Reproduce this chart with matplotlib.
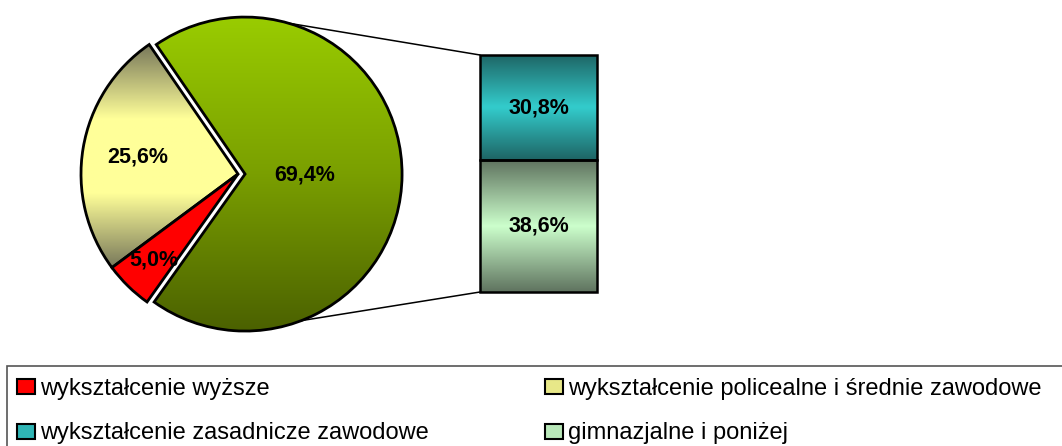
import numpy as np
import matplotlib
matplotlib.use("Agg")
import matplotlib.pyplot as plt
from matplotlib.colors import LinearSegmentedColormap
from matplotlib.patches import Patch, Rectangle, ConnectionPatch

plt.rcParams['font.family'] = ['Liberation Sans', 'DejaVu Sans']

# pie: "other" slice first, then the two shown slices
pie_values = [69.4, 25.6, 5.0]
pie_labels = ["69,4%", "25,6%", "5,0%"]
# bar of the "other" slice, bottom to top
bar_values = [38.6, 30.8]
bar_labels = ["38,6%", "30,8%"]

legend_names = ["wykształcenie wyższe",
                "wykształcenie zasadnicze zawodowe",
                "wykształcenie policealne i średnie zawodowe",
                "gimnazjalne i poniżej"]
legend_colors = ["#FF0000", "#2FB5B5", "#E8E888", "#B9E8B9"]

# gradients, top to bottom
grad_green = ["#99CC00", "#7A9F00", "#4B6100"]
grad_yellow = ["#77775A", "#FFFF99", "#FFFF99", "#77775A"]
grad_teal = ["#1E6464", "#33CCCC", "#1E6464"]
grad_lgreen = ["#5F735F", "#CCFFCC", "#5F735F"]


def grad_fill(ax, patch, colors):
    bb = patch.get_path().get_extents(patch.get_patch_transform())
    cmap = LinearSegmentedColormap.from_list("g", colors)
    arr = np.linspace(0, 1, 256).reshape(-1, 1)
    im = ax.imshow(arr, cmap=cmap, extent=(bb.x0, bb.x1, bb.y0, bb.y1),
                   origin="upper", aspect="auto", interpolation="bilinear",
                   zorder=patch.get_zorder() - 0.5)
    im.set_clip_path(patch)
    patch.set_facecolor("none")


fig = plt.figure(figsize=(10.62, 4.46), dpi=100)
ax = fig.add_axes([0, 0, 1, 1])

radius = 157
wedges, _ = ax.pie(pie_values, explode=[0.045 * radius, 0, 0], startangle=-125.4,
                   center=(238, 272), radius=radius, counterclock=True,
                   colors=["#99CC00", "#FFFF99", "#FF0000"],
                   wedgeprops=dict(edgecolor="black", linewidth=2))
ax.set_xlim(0, 1062)
ax.set_ylim(0, 446)
ax.set_aspect("auto")
ax.axis("off")

grad_fill(ax, wedges[0], grad_green)
grad_fill(ax, wedges[1], grad_yellow)

label_dist = [0.38, 0.645, 0.77]
for w, lab, d in zip(wedges, pie_labels, label_dist):
    ang = np.deg2rad((w.theta1 + w.theta2) / 2)
    cx, cy = w.center
    ax.text(cx + d * w.r * np.cos(ang), cy + d * w.r * np.sin(ang), lab,
            ha="center", va="center", fontsize=15.5, fontweight="bold", zorder=5)

# bar of pie
bax = fig.add_axes([480 / 1062, (446 - 292) / 446, 117 / 1062, 237 / 446])
total = sum(bar_values)
bottoms = np.cumsum([0] + bar_values[:-1])
bars = bax.bar([0, 0], bar_values, bottom=bottoms, width=1.0,
               edgecolor="black", linewidth=1.8, clip_on=False)
bax.set_xlim(-0.5, 0.5)
bax.set_ylim(0, total)
bax.axis("off")
grad_fill(bax, bars[0], grad_lgreen)
grad_fill(bax, bars[1], grad_teal)
for b, lab in zip(bars, bar_labels):
    bax.text(0, b.get_y() + b.get_height() / 2, lab, ha="center", va="center",
             fontsize=15.5, fontweight="bold", zorder=5)

# connector lines from the exploded slice to the bar corners
g = wedges[0]
for ang, yb in [(74, total), (-69, 0)]:
    a = np.deg2rad(ang)
    p = (g.center[0] + g.r * np.cos(a), g.center[1] + g.r * np.sin(a))
    con = ConnectionPatch(xyA=p, coordsA=ax.transData, xyB=(-0.5, yb),
                          coordsB=bax.transData, color="black", linewidth=1.1)
    fig.add_artist(con)

# legend
ax.add_patch(Rectangle((7, -10), 1100, 90, facecolor="none",
                       edgecolor="#555555", linewidth=1.2, clip_on=False))
handles = [Patch(facecolor=c, edgecolor="black", linewidth=1.5) for c in legend_colors]
ax.legend(handles, legend_names, ncol=2, loc="upper left",
          bbox_to_anchor=(17, 446 - 378), bbox_transform=ax.transData,
          frameon=False, fontsize=17, borderpad=0, borderaxespad=0,
          handlelength=0.76, handleheight=0.6, handletextpad=0.22,
          columnspacing=4.9, labelspacing=0.95)

fig.savefig("out.png", dpi=100)
